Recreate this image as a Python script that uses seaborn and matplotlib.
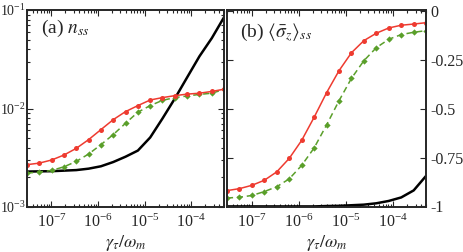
import numpy as np
import pandas as pd
import matplotlib
matplotlib.use("Agg")
import matplotlib.pyplot as plt
import matplotlib.ticker as mticker
import seaborn as sns

# ---- data ----
gamma = [3.0e-8, 5.5e-8, 1.01e-7, 1.86e-7, 3.41e-7, 6.27e-7, 1.15e-6, 2.11e-6,
         3.88e-6, 7.13e-6, 1.31e-5, 2.40e-5, 4.41e-5, 8.11e-5, 1.49e-4, 2.74e-4, 5.0e-4]

n_red = [2.69e-3, 2.79e-3, 3.00e-3, 3.37e-3, 3.94e-3, 4.83e-3, 6.10e-3, 7.70e-3,
         9.30e-3, 1.07e-2, 1.22e-2, 1.29e-2, 1.35e-2, 1.40e-2, 1.43e-2, 1.49e-2, 1.57e-2]
n_green = [2.21e-3, 2.26e-3, 2.35e-3, 2.56e-3, 2.90e-3, 3.45e-3, 4.29e-3, 5.43e-3,
           7.08e-3, 9.17e-3, 1.07e-2, 1.21e-2, 1.29e-2, 1.34e-2, 1.39e-2, 1.43e-2, 1.56e-2]
n_black = [2.29e-3, 2.30e-3, 2.31e-3, 2.34e-3, 2.37e-3, 2.45e-3, 2.59e-3, 2.86e-3,
           3.24e-3, 3.74e-3, 5.08e-3, 7.91e-3, 1.26e-2, 2.07e-2, 3.39e-2, 5.18e-2, 8.43e-2]

s_red = [-0.919, -0.909, -0.892, -0.866, -0.823, -0.754, -0.662, -0.544,
         -0.418, -0.305, -0.213, -0.151, -0.113, -0.086, -0.072, -0.066, -0.059]
s_green = [-0.957, -0.953, -0.944, -0.924, -0.899, -0.859, -0.790, -0.701,
           -0.583, -0.459, -0.344, -0.254, -0.187, -0.144, -0.120, -0.108, -0.100]
s_black = [-1.0, -1.0, -1.0, -1.0, -1.0, -1.0, -1.0, -1.0,
           -0.998, -0.997, -0.994, -0.991, -0.984, -0.972, -0.954, -0.918, -0.844]

xticks = [1e-7, 1e-6, 1e-5, 1e-4]
yticks_a = [1e-3, 1e-2, 1e-1]
yticks_b = [0, -0.25, -0.5, -0.75, -1]
yticklabels_b = ["0", "-0.25", "-0.5", "-0.75", "-1"]

label_a = r"(a) $n_{ss}$"
label_b = r"(b) $\langle\bar{\sigma}_z\rangle_{ss}$"
xlabel = r"$\gamma_\tau/\omega_m$"

RED = "#ee3b30"
GREEN = "#5a9f2a"

sns.set_style("ticks")
plt.rcParams["font.family"] = ["Liberation Serif", "DejaVu Serif"]
plt.rcParams["mathtext.fontset"] = "stix"
plt.rcParams["axes.unicode_minus"] = False

fig = plt.figure(figsize=(4.64, 2.52), dpi=100)
ax1 = fig.add_axes([27 / 464, 45 / 252, 197 / 464, 197 / 252])
ax2 = fig.add_axes([227 / 464, 45 / 252, 199 / 464, 197 / 252])

df_a = pd.DataFrame({"g": gamma, "red": n_red, "green": n_green, "black": n_black})
df_b = pd.DataFrame({"g": gamma, "red": s_red, "green": s_green, "black": s_black})

for ax, df in ((ax1, df_a), (ax2, df_b)):
    sns.lineplot(data=df, x="g", y="black", ax=ax, color="black", lw=1.8,
                 estimator=None, sort=False)
    sns.lineplot(data=df, x="g", y="green", ax=ax, color=GREEN, lw=1.1,
                 linestyle=(0, (4, 2.5)), marker="D", markersize=3.2,
                 markeredgewidth=0, estimator=None, sort=False)
    sns.lineplot(data=df, x="g", y="red", ax=ax, color=RED, lw=1.1,
                 marker="o", markersize=3.6, markeredgewidth=0,
                 estimator=None, sort=False)
    ax.set_xscale("log")
    ax.set_xlim(3e-8, 5e-4)
    ax.set_xticks(xticks)
    ax.xaxis.set_minor_locator(mticker.LogLocator(base=10, subs=np.arange(2, 10), numticks=20))
    ax.xaxis.set_minor_formatter(mticker.NullFormatter())
    ax.set_xlabel(xlabel, fontsize=13, labelpad=1)
    ax.set_ylabel("")
    for sp in ax.spines.values():
        sp.set_visible(True)
        sp.set_linewidth(1.4)
    ax.tick_params(which="both", direction="in", top=True, bottom=True,
                   left=True, right=True, labelsize=11.5, width=0.8)
    ax.tick_params(which="major", length=4, pad=3)
    ax.tick_params(which="minor", length=2)

ax1.set_yscale("log")
ax1.set_ylim(1e-3, 1e-1)
ax1.set_yticks(yticks_a)
ax1.yaxis.set_minor_locator(mticker.LogLocator(base=10, subs=np.arange(2, 10), numticks=20))
ax1.yaxis.set_minor_formatter(mticker.NullFormatter())
ax1.tick_params(axis="y", labelsize=10, pad=1)
ax1.tick_params(axis="x", pad=5)

ax2.set_ylim(-1.003, 0.006)
ax2.set_yticks(yticks_b)
ax2.set_yticklabels(yticklabels_b)
ax2.tick_params(axis="y", labelleft=False, labelright=True, pad=3)
ax2.tick_params(axis="x", pad=5)

ax1.text(0.07, 0.905, label_a, transform=ax1.transAxes, fontsize=14, va="center", ha="left")
ax2.text(0.065, 0.885, label_b, transform=ax2.transAxes, fontsize=14, va="center", ha="left")

fig.savefig("out.png", dpi=100)
